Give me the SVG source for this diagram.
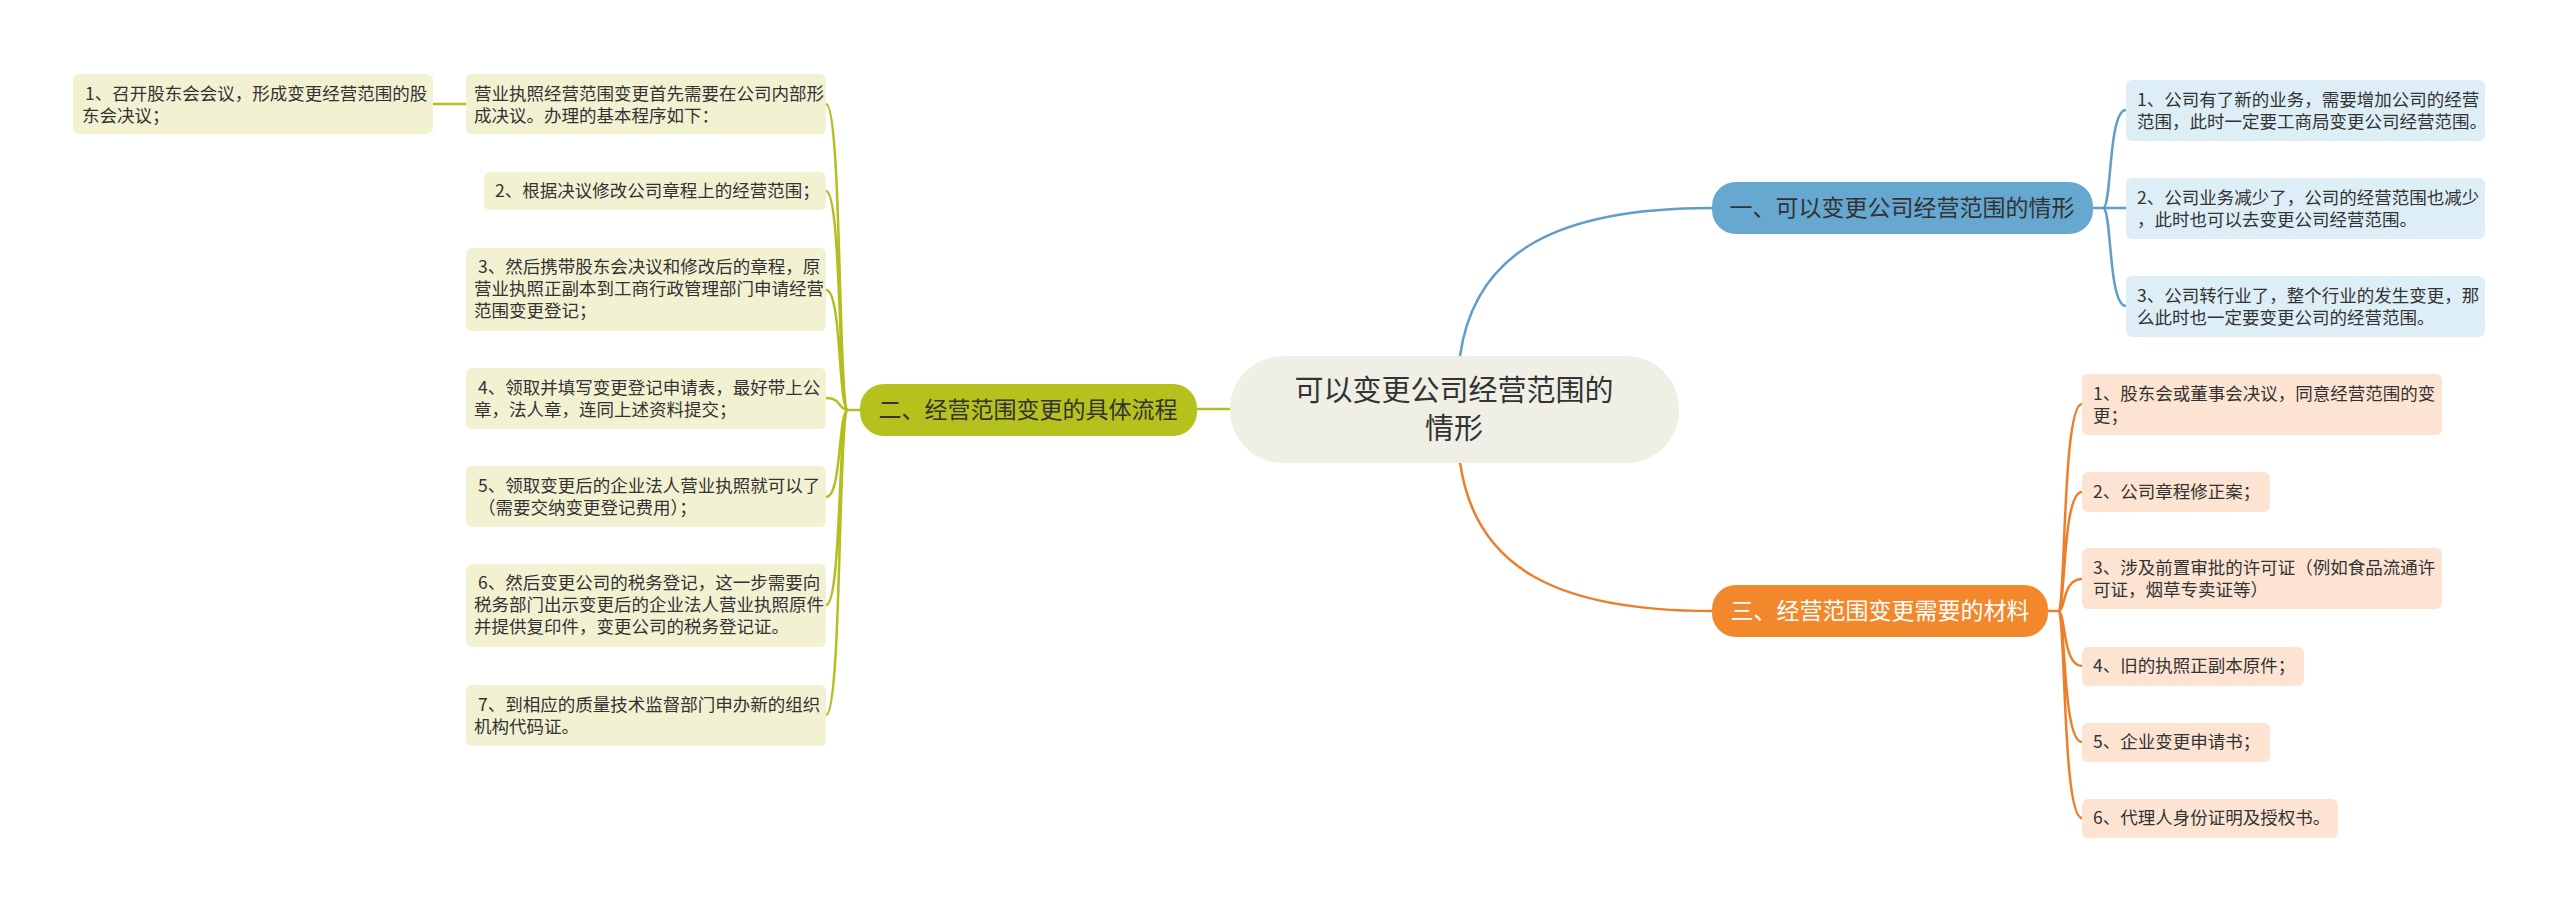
<svg xmlns="http://www.w3.org/2000/svg" width="2560" height="911" viewBox="0 0 2560 911">
<style>
text{font-family:"Noto Sans CJK SC","Liberation Sans",sans-serif;fill:#333}
.lf{font-size:17.5px}
.br{font-size:23px;text-anchor:middle}
.gl{fill:#f2f2d3}.bl{fill:#ddeef7}.ol{fill:#fde4d2}
.cg{stroke:#b2bf1e;stroke-width:2.5;fill:none}
.cb{stroke:#5f9ec6;stroke-width:2.5;fill:none}
.co{stroke:#ee7f2a;stroke-width:2.5;fill:none}
</style>
<rect width="2560" height="911" fill="#fff"/>
<g id="connectors">
<path class="cb" d="M1460 356 C1475 250 1560 208 1712 208"/>
<path class="co" d="M1460 462 C1475 570 1560 611 1712 611"/>
<path class="cg" d="M1230 409 H1197"/>
<path class="cb" d="M2093 208 H2103 C2112 208 2108 110 2126 110 M2103 208 H2126 M2103 208 C2112 208 2108 306 2126 306"/>
<path class="co" d="M2048 611 H2058 C2066 611 2062 404 2082 404 M2058 611 C2066 611 2062 492 2082 492 M2058 611 C2066 611 2062 579 2082 579 M2058 611 C2066 611 2062 666 2082 666 M2058 611 C2066 611 2062 742 2082 742 M2058 611 C2066 611 2062 818 2082 818"/>
<path class="cg" d="M860 410 H848 C838 410 842 104 826 104 M848 410 C838 410 842 191 826 191 M848 410 C838 410 842 290 826 290 M848 410 C838 410 842 398 826 398 M848 410 C838 410 842 497 826 497 M848 410 C838 410 842 605 826 605 M848 410 C838 410 842 715 826 715"/>
<path class="cg" d="M466 104 H433"/>
</g>
<g id="center"><rect x="1230" y="356" width="449" height="107" rx="53" fill="#efefe6"/>
<text x="1454" y="401" font-size="29" text-anchor="middle">可以变更公司经营范围的</text><text x="1454" y="439" font-size="29" text-anchor="middle">情形</text></g>
<g id="b1"><rect x="1712" y="182" width="381" height="52" rx="24" fill="#66a8d0"/><text class="br" x="1902" y="216">一、可以变更公司经营范围的情形</text></g>
<g id="b3"><rect x="1712" y="585" width="336" height="52" rx="24" fill="#f2872c"/><text class="br" x="1880" y="619" style="fill:#fff">三、经营范围变更需要的材料</text></g>
<g id="b2"><rect x="860" y="384" width="337" height="52" rx="24" fill="#b5c11c"/><text class="br" x="1028" y="418">二、经营范围变更的具体流程</text></g>
<g id="bl1"><rect class="bl" x="2126" y="80" width="359" height="61" rx="6"/><text class="lf" x="2137" y="106">1、公司有了新的业务，需要增加公司的经营</text><text class="lf" x="2137" y="128">范围，此时一定要工商局变更公司经营范围。</text></g>
<g id="bl2"><rect class="bl" x="2126" y="178" width="359" height="61" rx="6"/><text class="lf" x="2137" y="204">2、公司业务减少了，公司的经营范围也减少</text><text class="lf" x="2137" y="226">，此时也可以去变更公司经营范围。</text></g>
<g id="bl3"><rect class="bl" x="2126" y="276" width="359" height="61" rx="6"/><text class="lf" x="2137" y="302">3、公司转行业了，整个行业的发生变更，那</text><text class="lf" x="2137" y="324">么此时也一定要变更公司的经营范围。</text></g>
<g id="ol1"><rect class="ol" x="2082" y="374" width="360" height="61" rx="6"/><text class="lf" x="2093" y="400">1、股东会或董事会决议，同意经营范围的变</text><text class="lf" x="2093" y="422">更；</text></g>
<g id="ol2"><rect class="ol" x="2082" y="472" width="188" height="40" rx="6"/><text class="lf" x="2093" y="498">2、公司章程修正案；</text></g>
<g id="ol3"><rect class="ol" x="2082" y="548" width="360" height="61" rx="6"/><text class="lf" x="2093" y="574">3、涉及前置审批的许可证（例如食品流通许</text><text class="lf" x="2093" y="596">可证，烟草专卖证等）</text></g>
<g id="ol4"><rect class="ol" x="2082" y="647" width="222" height="39" rx="6"/><text class="lf" x="2093" y="672">4、旧的执照正副本原件；</text></g>
<g id="ol5"><rect class="ol" x="2082" y="723" width="188" height="39" rx="6"/><text class="lf" x="2093" y="748">5、企业变更申请书；</text></g>
<g id="ol6"><rect class="ol" x="2082" y="799" width="256" height="39" rx="6"/><text class="lf" x="2093" y="824">6、代理人身份证明及授权书。</text></g>
<g id="g0"><rect class="gl" x="466" y="74" width="360" height="60" rx="6"/><text class="lf" x="474" y="100">营业执照经营范围变更首先需要在公司内部形</text><text class="lf" x="474" y="122">成决议。办理的基本程序如下：</text></g>
<g id="g1"><rect class="gl" x="73" y="74" width="360" height="60" rx="6"/><text class="lf" x="85" y="100">1、召开股东会会议，形成变更经营范围的股</text><text class="lf" x="82" y="122">东会决议；</text></g>
<g id="g2"><rect class="gl" x="484" y="172" width="342" height="38" rx="6"/><text class="lf" x="495" y="197">2、根据决议修改公司章程上的经营范围；</text></g>
<g id="g3"><rect class="gl" x="466" y="248" width="360" height="83" rx="6"/><text class="lf" x="478" y="273">3、然后携带股东会决议和修改后的章程，原</text><text class="lf" x="474" y="295">营业执照正副本到工商行政管理部门申请经营</text><text class="lf" x="474" y="317">范围变更登记；</text></g>
<g id="g4"><rect class="gl" x="466" y="368" width="360" height="61" rx="6"/><text class="lf" x="478" y="394">4、领取并填写变更登记申请表，最好带上公</text><text class="lf" x="474" y="416">章，法人章，连同上述资料提交；</text></g>
<g id="g5"><rect class="gl" x="466" y="466" width="360" height="61" rx="6"/><text class="lf" x="478" y="492">5、领取变更后的企业法人营业执照就可以了</text><text class="lf" x="478" y="514">（需要交纳变更登记费用）；</text></g>
<g id="g6"><rect class="gl" x="466" y="564" width="360" height="83" rx="6"/><text class="lf" x="478" y="589">6、然后变更公司的税务登记，这一步需要向</text><text class="lf" x="474" y="611">税务部门出示变更后的企业法人营业执照原件</text><text class="lf" x="474" y="633">并提供复印件，变更公司的税务登记证。</text></g>
<g id="g7"><rect class="gl" x="466" y="685" width="360" height="61" rx="6"/><text class="lf" x="478" y="711">7、到相应的质量技术监督部门申办新的组织</text><text class="lf" x="474" y="733">机构代码证。</text></g>
</svg>
